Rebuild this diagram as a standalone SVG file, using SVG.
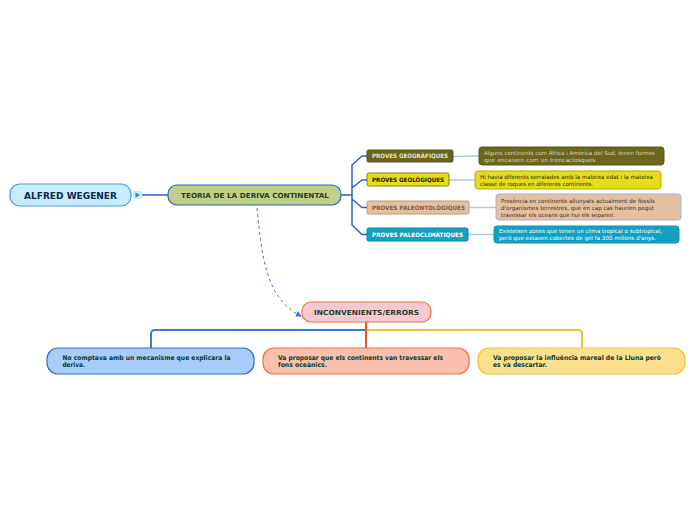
<svg xmlns="http://www.w3.org/2000/svg" width="696" height="520" viewBox="0 0 696 520">
<defs>
<style>
text{font-family:"DejaVu Sans","Liberation Sans",sans-serif;font-weight:bold}
.t7{font-size:7px}
.t6{font-size:6px}
.d{font-size:5.6px;font-weight:normal}
.b{font-size:6.6px}
.br{fill:none;stroke:#2a62d0;stroke-width:1.5}
.lk{fill:none;stroke:#a8c8f0;stroke-width:1.5}
</style>
<marker id="ah" viewBox="0 0 6 6" refX="5" refY="3" markerWidth="6" markerHeight="6" orient="auto" markerUnits="userSpaceOnUse">
<path d="M0,0 L6,3 L0,6 Z" fill="#4a6ee8"/>
</marker>
</defs>
<rect width="696" height="520" fill="#ffffff"/>
<g id="connectors">
<path d="M142,195 H168" class="br"/>
<path d="M341,195 H352 M352,195 V165 L362,156 H367 M352,188 L362,180 H367 M352,195 V199 L362,207.5 H367 M352,199 V225 L362,234.5 H367" class="br"/>
<path d="M453,156.5 L479,156" class="lk"/>
<path d="M449,180 L475,180" class="lk"/>
<path d="M469,207.5 L496,207.5" class="lk"/>
<path d="M468,234.5 L494,234.5" class="lk"/>
<path d="M257,208 C262,262 268,300 301,316" fill="none" stroke="#4a6ee8" stroke-width="1" stroke-dasharray="3,3" marker-end="url(#ah)"/>
<path d="M366,330 H155 Q151,330 151,334 V348" fill="none" stroke="#3a7ad8" stroke-width="2"/>
<path d="M367,330 H578 Q582,330 582,334 V348" fill="none" stroke="#f8c030" stroke-width="2"/>
<path d="M366,322 V348" fill="none" stroke="#f05030" stroke-width="2"/>
</g>
<g id="alfred">
<rect x="10" y="184" width="121" height="22" rx="10" fill="#c8ecfc" stroke="#4a9ad8" stroke-width="1.2"/>
<text x="24" y="199" font-size="9" fill="#0a2a50" textLength="93" lengthAdjust="spacingAndGlyphs">ALFRED WEGENER</text>
<rect x="133" y="191" width="9" height="8" rx="1" fill="#c8ecfc"/>
<path d="M135.5,192.5 L140,195 L135.5,197.5 Z" fill="#2a7ad8"/>
</g>
<g id="teoria">
<rect x="168" y="185" width="173" height="20" rx="9" fill="#c0cf88" stroke="#2a62c8" stroke-width="1.2"/>
<text x="181" y="197.5" class="t7" fill="#1f3f1f" textLength="148" lengthAdjust="spacingAndGlyphs">TEORIA DE LA DERIVA CONTINENTAL</text>
</g>
<g id="geografiques">
<rect x="367" y="150" width="86" height="12" rx="1.5" fill="#6a661c" stroke="#54501a"/>
<text x="372" y="158.2" class="t6" fill="#e8e4c8" textLength="76" lengthAdjust="spacingAndGlyphs">PROVES GEOGRÀFIQUES</text>
</g>
<g id="geologiques">
<rect x="367" y="173" width="82" height="13" rx="1.5" fill="#e6dc1c" stroke="#8a8010"/>
<text x="372" y="181.8" class="t6" fill="#1a1a00" textLength="72" lengthAdjust="spacingAndGlyphs">PROVES GEOLÒGIQUES</text>
</g>
<g id="paleontologiques">
<rect x="367" y="201" width="102" height="13" rx="1.5" fill="#e4c0a0" stroke="#b89878"/>
<text x="372" y="209.8" class="t6" fill="#7a5a40" textLength="93" lengthAdjust="spacingAndGlyphs">PROVES PALEONTOLÒGIQUES</text>
</g>
<g id="paleoclimatiques">
<rect x="367" y="228" width="101" height="13" rx="1.5" fill="#14a0c0" stroke="#0a86a6"/>
<text x="372" y="236.8" class="t6" fill="#ffffff" textLength="91" lengthAdjust="spacingAndGlyphs">PROVES PALEOCLIMÀTIQUES</text>
</g>
<g id="desc-geografiques">
<rect x="479" y="147" width="185" height="18" rx="3" fill="#6a661c" stroke="#5a5618"/>
<text x="484" y="155" class="d" fill="#dcd8b8" textLength="171" lengthAdjust="spacingAndGlyphs">Alguns continents com Àfrica i Amèrica del Sud, tenen formes</text>
<text x="484" y="162" class="d" fill="#dcd8b8" textLength="113" lengthAdjust="spacingAndGlyphs">que encaixen com un trencaclosques.</text>
</g>
<g id="desc-geologiques">
<rect x="475" y="171" width="186" height="18" rx="3" fill="#e6dc1c" stroke="#b8a810"/>
<text x="480" y="178.5" class="d" fill="#2a2a00" textLength="173" lengthAdjust="spacingAndGlyphs">Hi havia diferents serralades amb la mateixa edat i la mateixa</text>
<text x="480" y="185.5" class="d" fill="#2a2a00" textLength="113" lengthAdjust="spacingAndGlyphs">classe de roques en diferents continents.</text>
</g>
<g id="desc-paleontologiques">
<rect x="496" y="194" width="185" height="26" rx="3" fill="#e4c0a0" stroke="#a0b4d8"/>
<text x="501" y="203" class="d" fill="#3a2a1a" textLength="154" lengthAdjust="spacingAndGlyphs">Presència en continents allunyats actualment de fòssils</text>
<text x="501" y="210" class="d" fill="#3a2a1a" textLength="153" lengthAdjust="spacingAndGlyphs">d'organismes terrestres, que en cap cas haurien pogut</text>
<text x="501" y="217" class="d" fill="#3a2a1a" textLength="114" lengthAdjust="spacingAndGlyphs">travessar els oceans que hui els separen.</text>
</g>
<g id="desc-paleoclimatiques">
<rect x="494" y="226" width="185" height="17" rx="3" fill="#14a0c0" stroke="#0a94b4"/>
<text x="499" y="233" class="d" fill="#ffffff" textLength="163" lengthAdjust="spacingAndGlyphs">Existeixen zones que tenen un clima tropical o subtropical,</text>
<text x="499" y="240.3" class="d" fill="#ffffff" textLength="157" lengthAdjust="spacingAndGlyphs">però que estaven cobertes de gel fa 300 milions d'anys.</text>
</g>
<g id="inconvenients">
<rect x="302" y="302" width="129" height="20" rx="9" fill="#f8c8d0" stroke="#f07040" stroke-width="1.2"/>
<text x="314" y="315" class="t7" fill="#1f3f2f" textLength="105" lengthAdjust="spacingAndGlyphs">INCONVENIENTS/ERRORS</text>
</g>
<g id="mecanisme">
<rect x="47" y="348" width="207" height="26" rx="11" fill="#a8ccfc" stroke="#2f6fd8" stroke-width="1.2"/>
<text x="62.5" y="360" class="b" fill="#0a3a2a" textLength="168" lengthAdjust="spacingAndGlyphs">No comptava amb un mecanisme que explicara la</text>
<text x="62.5" y="367" class="b" fill="#0a3a2a" textLength="22.5" lengthAdjust="spacingAndGlyphs">deriva.</text>
</g>
<g id="oceanics">
<rect x="263" y="348" width="206" height="26" rx="11" fill="#f9c0ae" stroke="#f07040" stroke-width="1.2"/>
<text x="278" y="360" class="b" fill="#0a3a2a" textLength="165" lengthAdjust="spacingAndGlyphs">Va proposar que els continents van travessar els</text>
<text x="278" y="367" class="b" fill="#0a3a2a" textLength="49" lengthAdjust="spacingAndGlyphs">fons oceànics.</text>
</g>
<g id="lluna">
<rect x="478" y="348" width="207" height="26" rx="11" fill="#fde08e" stroke="#f8c030" stroke-width="1.2"/>
<text x="493" y="360" class="b" fill="#0a3a2a" textLength="168" lengthAdjust="spacingAndGlyphs">Va proposar la influència mareal de la Lluna però</text>
<text x="493" y="367" class="b" fill="#0a3a2a" textLength="54" lengthAdjust="spacingAndGlyphs">es va descartar.</text>
</g>
</svg>
